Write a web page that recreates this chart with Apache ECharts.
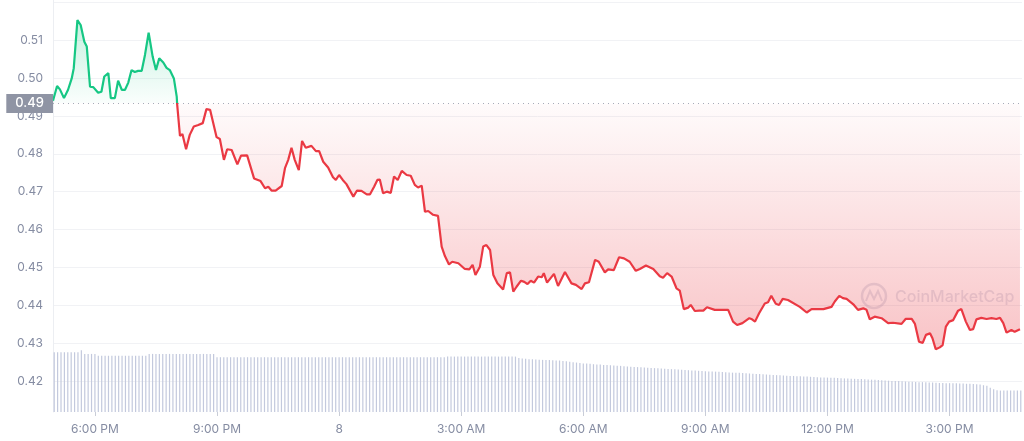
<!DOCTYPE html>
<html>
<head>
<meta charset="utf-8">
<title>Price chart</title>
<script src="https://cdn.jsdelivr.net/npm/echarts@6/dist/echarts.min.js"></script>
<style>
  html, body { margin: 0; padding: 0; background: #fff; }
  #main { width: 1024px; height: 441px; }
</style>
</head>
<body>
<div id="main"></div>
<script>
// hours counted from midnight of the 7th (24 = midnight "8")
const priceHours = [
  16.97, 17.07, 17.14, 17.24, 17.34, 17.43, 17.48, 17.57, 17.65, 17.74,
  17.80, 17.88, 17.96, 18.08, 18.16, 18.23, 18.33, 18.39, 18.49, 18.57,
  18.66, 18.74, 18.82, 18.90, 18.98, 19.06, 19.15, 19.23, 19.32, 19.42,
  19.50, 19.58, 19.68, 19.76, 19.84, 19.94, 20.01, 20.02, 20.09, 20.15,
  20.24, 20.33, 20.43, 20.54, 20.65, 20.74, 20.83, 20.99, 21.07, 21.17,
  21.25, 21.36, 21.50, 21.59, 21.74, 21.91, 22.07, 22.18, 22.26, 22.34,
  22.44, 22.59, 22.67, 22.75, 22.83, 22.91, 23.01, 23.09, 23.18, 23.32,
  23.43, 23.51, 23.61, 23.73, 23.85, 23.92, 24.00, 24.09, 24.18, 24.35,
  24.44, 24.55, 24.68, 24.76, 24.86, 24.94, 25.00, 25.08, 25.17, 25.27,
  25.35, 25.44, 25.54, 25.66, 25.76, 25.86, 25.94, 26.03, 26.11, 26.19,
  26.31, 26.43, 26.52, 26.60, 26.70, 26.78, 26.93, 27.09, 27.20, 27.28,
  27.35, 27.46, 27.54, 27.62, 27.71, 27.79, 27.89, 28.03, 28.12, 28.20,
  28.28, 28.36, 28.47, 28.55, 28.63, 28.71, 28.79, 28.89, 28.98, 29.03,
  29.11, 29.28, 29.38, 29.55, 29.71, 29.82, 29.96, 30.04, 30.14, 30.29,
  30.38, 30.53, 30.61, 30.75, 30.88, 31.00, 31.14, 31.29, 31.39, 31.54,
  31.72, 31.88, 31.96, 32.06, 32.17, 32.29, 32.37, 32.47, 32.58, 32.64,
  32.74, 32.85, 32.95, 33.04, 33.23, 33.56, 33.68, 33.78, 33.91, 34.08,
  34.13, 34.22, 34.32, 34.46, 34.54, 34.62, 34.73, 34.81, 34.90, 35.03,
  35.32, 35.49, 35.61, 35.90, 36.10, 36.18, 36.29, 36.38, 36.47, 36.65,
  36.75, 36.88, 36.96, 37.04, 37.16, 37.33, 37.49, 37.61, 37.82, 37.92,
  38.07, 38.15, 38.25, 38.34, 38.42, 38.52, 38.58, 38.66, 38.76, 38.83,
  38.91, 38.99, 39.09, 39.21, 39.29, 39.40, 39.50, 39.58, 39.66, 39.78,
  39.91, 40.03, 40.15, 40.24, 40.32, 40.40, 40.52, 40.60, 40.73
];
const prices = [
  0.4940, 0.4979, 0.4970, 0.4947, 0.4969, 0.4999, 0.5026, 0.5153, 0.5140, 0.5096,
  0.5083, 0.4977, 0.4976, 0.4961, 0.4964, 0.5004, 0.5013, 0.4947, 0.4947, 0.4993,
  0.4969, 0.4969, 0.4988, 0.5021, 0.5016, 0.5019, 0.5019, 0.5061, 0.5120, 0.5056,
  0.5021, 0.5052, 0.5041, 0.5027, 0.5021, 0.4999, 0.4951, 0.4932, 0.4847, 0.4852,
  0.4812, 0.4850, 0.4872, 0.4876, 0.4881, 0.4918, 0.4916, 0.4844, 0.4839, 0.4784,
  0.4812, 0.4810, 0.4772, 0.4795, 0.4796, 0.4735, 0.4728, 0.4709, 0.4713, 0.4703,
  0.4703, 0.4715, 0.4762, 0.4784, 0.4816, 0.4784, 0.4757, 0.4834, 0.4816, 0.4821,
  0.4807, 0.4807, 0.4779, 0.4764, 0.4738, 0.4731, 0.4744, 0.4731, 0.4720, 0.4687,
  0.4703, 0.4702, 0.4693, 0.4693, 0.4713, 0.4731, 0.4732, 0.4696, 0.4700, 0.4697,
  0.4740, 0.4731, 0.4755, 0.4744, 0.4742, 0.4718, 0.4711, 0.4716, 0.4647, 0.4649,
  0.4639, 0.4636, 0.4555, 0.4530, 0.4508, 0.4515, 0.4511, 0.4496, 0.4495, 0.4507,
  0.4480, 0.4502, 0.4555, 0.4559, 0.4546, 0.4480, 0.4458, 0.4442, 0.4485, 0.4487,
  0.4436, 0.4449, 0.4465, 0.4462, 0.4456, 0.4465, 0.4460, 0.4476, 0.4474, 0.4485,
  0.4460, 0.4483, 0.4451, 0.4488, 0.4458, 0.4454, 0.4443, 0.4458, 0.4461, 0.4520,
  0.4515, 0.4487, 0.4495, 0.4493, 0.4527, 0.4524, 0.4515, 0.4491, 0.4496, 0.4505,
  0.4496, 0.4477, 0.4473, 0.4485, 0.4476, 0.4445, 0.4439, 0.4390, 0.4394, 0.4401,
  0.4385, 0.4386, 0.4386, 0.4395, 0.4388, 0.4388, 0.4357, 0.4348, 0.4353, 0.4366,
  0.4364, 0.4357, 0.4379, 0.4405, 0.4408, 0.4425, 0.4404, 0.4401, 0.4417, 0.4414,
  0.4396, 0.4381, 0.4390, 0.4390, 0.4396, 0.4410, 0.4425, 0.4419, 0.4417, 0.4401,
  0.4388, 0.4392, 0.4388, 0.4363, 0.4370, 0.4366, 0.4353, 0.4354, 0.4351, 0.4364,
  0.4364, 0.4351, 0.4304, 0.4301, 0.4322, 0.4326, 0.4313, 0.4284, 0.4289, 0.4295,
  0.4344, 0.4357, 0.4361, 0.4386, 0.4390, 0.4357, 0.4335, 0.4337, 0.4363, 0.4367,
  0.4364, 0.4366, 0.4364, 0.4367, 0.4353, 0.4328, 0.4335, 0.4330, 0.4337
];
const openPrice = 0.4933;

// volume bars, one every 5 minutes from 17:00
const volumeStartHour = 17;
const volumeStepHour = 5 / 60;
const volumes = [
  290, 290, 290, 290, 290, 290, 290, 290, 300, 282, 282, 282,
  282, 273, 273, 273, 273, 273, 273, 273, 273, 273, 273, 273,
  273, 273, 273, 273, 282, 282, 282, 282, 282, 282, 282, 282,
  282, 282, 282, 282, 282, 282, 282, 282, 282, 282, 282, 282,
  266, 266, 266, 266, 266, 266, 266, 266, 266, 266, 266, 266,
  266, 266, 266, 266, 266, 266, 266, 266, 266, 266, 266, 266,
  266, 266, 266, 266, 266, 266, 266, 266, 266, 266, 266, 266,
  266, 266, 266, 266, 266, 266, 266, 266, 266, 266, 266, 266,
  266, 266, 266, 266, 266, 266, 266, 266, 266, 266, 266, 266,
  266, 266, 266, 266, 266, 266, 266, 266, 269, 269, 269, 269,
  269, 269, 269, 269, 269, 269, 269, 269, 269, 269, 269, 269,
  269, 269, 269, 269, 269, 262, 260, 258, 256, 256, 255, 254,
  253, 252, 252, 251, 250, 250, 248, 246, 244, 242, 240, 238,
  236, 235, 234, 232, 231, 230, 228, 228, 227, 226, 225, 224,
  222, 221, 220, 219, 218, 217, 216, 215, 214, 213, 212, 211,
  210, 209, 208, 207, 206, 205, 204, 203, 202, 201, 200, 199,
  198, 197, 196, 196, 195, 194, 193, 192, 191, 191, 190, 189,
  188, 187, 186, 185, 184, 183, 182, 181, 180, 179, 178, 177,
  176, 175, 175, 174, 173, 172, 172, 171, 170, 169, 168, 168,
  167, 166, 166, 165, 164, 163, 163, 162, 161, 160, 160, 159,
  158, 157, 156, 155, 154, 153, 152, 151, 150, 150, 149, 148,
  147, 147, 146, 145, 145, 144, 143, 143, 142, 141, 141, 140,
  140, 139, 139, 138, 138, 137, 137, 136, 135, 133, 130, 127,
  118, 110, 106, 104, 104, 104, 104, 104, 104, 104
];

const tickHours = [18, 21, 24, 27, 30, 33, 36, 39];
const tickLabels = ['6:00 PM', '9:00 PM', '8', '3:00 AM', '6:00 AM', '9:00 AM', '12:00 PM', '3:00 PM'];
const priceTicks = [0.42, 0.43, 0.44, 0.45, 0.46, 0.47, 0.48, 0.49, 0.50, 0.51];

const yMin = 0.41184;
const yMax = 0.5206;
const gridTop = 0;
const gridHeight = 412;
const labelGray = '#858ca2';
const markGray = 'rgba(160,170,195,0.3)';

let priceData = priceHours.map((h, i) => [h, prices[i]]);
let volumeData = volumes.map((v, i) => [volumeStartHour + i * volumeStepHour, v]);

// where the open price sits inside the plot, used for the colour switch
let split = (yMax - openPrice) / (yMax - yMin);

let lineColor = {
  type: 'linear', x: 0, y: gridTop, x2: 0, y2: gridTop + gridHeight, global: true,
  colorStops: [
    { offset: 0, color: '#16c784' },
    { offset: split, color: '#16c784' },
    { offset: split, color: '#ea3943' },
    { offset: 1, color: '#ea3943' }
  ]
};
let areaColor = {
  type: 'linear', x: 0, y: gridTop, x2: 0, y2: gridTop + gridHeight, global: true,
  colorStops: [
    { offset: 0, color: 'rgba(22,199,132,0.30)' },
    { offset: split, color: 'rgba(22,199,132,0.02)' },
    { offset: split, color: 'rgba(234,57,67,0.02)' },
    { offset: 0.85, color: 'rgba(234,57,67,0.30)' },
    { offset: 1, color: 'rgba(234,57,67,0.34)' }
  ]
};

let option = {
  animation: false,
  backgroundColor: '#fff',
  textStyle: { fontFamily: 'Inter, "Noto Sans", sans-serif' },
  grid: { left: 53, right: 2, top: gridTop, height: gridHeight, outerBoundsMode: 'none' },
  xAxis: {
    type: 'value',
    min: 16.97,
    max: 40.78,
    minInterval: 3,
    maxInterval: 3,
    axisLine: { show: false },
    splitLine: { show: false },
    axisTick: {
      customValues: tickHours,
      length: 4,
      lineStyle: { color: '#c9cdd7' }
    },
    axisLabel: {
      customValues: tickHours,
      margin: 11,
      fontSize: 12,
      color: labelGray,
      formatter: v => tickLabels[tickHours.indexOf(Math.round(v))] || ''
    }
  },
  yAxis: [
    {
      type: 'value',
      min: yMin,
      max: yMax,
      minInterval: 0.01,
      maxInterval: 0.01,
      splitNumber: 11,
      axisLine: { show: true, lineStyle: { color: '#eceef2' } },
      axisTick: { show: false },
      splitLine: { showMinLine: false, showMaxLine: false, lineStyle: { color: '#f1f2f5' } },
      axisLabel: {
        customValues: priceTicks,
        margin: 10,
        fontSize: 12,
        color: labelGray,
        formatter: v => v.toFixed(2)
      }
    },
    {
      type: 'value',
      min: 0,
      max: 2000,
      show: false,
      splitLine: { show: false }
    }
  ],
  graphic: [
    {
      type: 'circle', silent: true, z: 1,
      shape: { cx: 874, cy: 296, r: 12 },
      style: { fill: 'none', stroke: markGray, lineWidth: 2.5 }
    },
    {
      type: 'polyline', silent: true, z: 1,
      shape: { points: [[866, 301], [870, 291], [874, 299], [878, 291], [882, 301]] },
      style: { fill: 'none', stroke: markGray, lineWidth: 2 }
    },
    {
      type: 'text', silent: true, z: 1,
      style: {
        text: 'CoinMarketCap', x: 895, y: 297, verticalAlign: 'middle',
        font: '500 16px Inter', fill: markGray
      }
    }
  ],
  series: [
    {
      name: 'volume',
      type: 'bar',
      yAxisIndex: 1,
      barWidth: 1.2,
      itemStyle: { color: '#c3c9dd' },
      data: volumeData
    },
    {
      name: 'price',
      type: 'line',
      showSymbol: false,
      symbol: 'none',
      lineStyle: { width: 2.2, color: lineColor },
      areaStyle: { origin: openPrice, opacity: 1, color: areaColor },
      markLine: {
        silent: true,
        symbol: 'none',
        precision: 4,
        lineStyle: { type: [1, 4], color: '#a7abb8', width: 1 },
        label: {
          position: 'start',
          distance: 0,
          formatter: openPrice.toFixed(2),
          color: '#fff',
          fontSize: 13,
          fontWeight: 500,
          backgroundColor: '#8f94a4',
          padding: [3, 9, 3, 9]
        },
        data: [{ yAxis: openPrice }]
      },
      data: priceData
    }
  ]
};

let chartDom = document.getElementById('main');
let myChart = echarts.init(chartDom);
myChart.setOption(option);
</script>
</body>
</html>
